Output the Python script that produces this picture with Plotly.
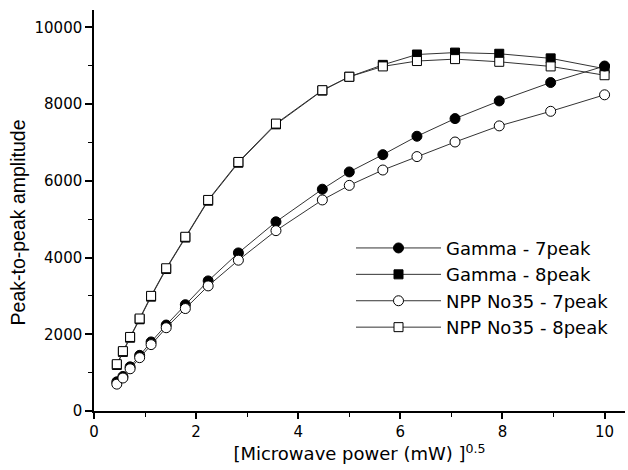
import plotly.graph_objects as go

# sqrt of microwave power (mW)
x_vals = [0.447, 0.566, 0.707, 0.894, 1.118, 1.414, 1.789, 2.236, 2.828, 3.564,
          4.472, 5.0, 5.657, 6.325, 7.071, 7.937, 8.944, 10.0]

gamma_7 = [760, 900, 1150, 1450, 1800, 2240, 2770, 3390, 4120, 4930,
           5780, 6230, 6680, 7160, 7620, 8080, 8560, 8990]
gamma_8 = [1200, 1540, 1910, 2390, 2980, 3700, 4520, 5480, 6470, 7470,
           8350, 8710, 9020, 9290, 9340, 9310, 9190, 8920]
npp_7 = [700, 860, 1100, 1390, 1730, 2170, 2670, 3260, 3930, 4700,
         5500, 5880, 6280, 6630, 7010, 7430, 7810, 8240]
npp_8 = [1220, 1560, 1930, 2410, 3000, 3720, 4540, 5500, 6490, 7490,
         8360, 8710, 8980, 9120, 9170, 9100, 8980, 8750]

# (name, values, symbol, fill, legend rank); listed in drawing order
series = [
    ("Gamma - 8peak", gamma_8, "square", "black", 2),
    ("NPP No35 - 8peak", npp_8, "square", "white", 4),
    ("Gamma - 7peak", gamma_7, "circle", "black", 1),
    ("NPP No35 - 7peak", npp_7, "circle", "white", 3),
]

fig = go.Figure()
for name, ys, sym, fill, rank in series:
    fig.add_trace(go.Scatter(
        x=x_vals, y=ys, name=name, mode="lines+markers", legendrank=rank,
        line=dict(color="#333333", width=1),
        marker=dict(symbol=sym, size=10 if sym == "circle" else 9, color=fill,
                    line=dict(color="black", width=1)),
    ))

wide = "DejaVu Sans, sans-serif"
narrow = "Liberation Sans, Arial, sans-serif"

fig.update_layout(
    width=628, height=470,
    margin=dict(l=94, r=3, t=10, b=59),
    paper_bgcolor="white", plot_bgcolor="white",
    font=dict(family=wide, color="black", size=15),
    showlegend=True,
    legend=dict(x=0.484, y=0.452, xanchor="left", yanchor="top",
                itemwidth=85, font=dict(family=wide, size=18),
                bgcolor="rgba(0,0,0,0)"),
    xaxis=dict(
        range=[0, 10.4], tickvals=[0, 2, 4, 6, 8, 10], automargin=False,
        showgrid=False, zeroline=False, showline=True, linecolor="black",
        linewidth=1.5, ticks="outside", ticklen=6, tickwidth=1.5,
        tickcolor="black", tickfont=dict(family=wide, size=15),
        minor=dict(tickvals=[1, 3, 5, 7, 9], ticks="outside", ticklen=4,
                   tickwidth=1, tickcolor="black"),
        title=dict(text="[Microwave power (mW) ]<sup>0.5</sup>",
                   font=dict(family=wide, size=18), standoff=4),
    ),
    yaxis=dict(
        range=[0, 10450], tickvals=[0, 2000, 4000, 6000, 8000, 10000],
        tickformat="d", automargin=False,
        showgrid=False, zeroline=False, showline=True, linecolor="black",
        linewidth=1.5, ticks="outside", ticklen=7, tickwidth=1.5,
        tickcolor="black", tickfont=dict(family=wide, size=15),
        minor=dict(tickvals=[1000, 3000, 5000, 7000, 9000], ticks="outside",
                   ticklen=4, tickwidth=1, tickcolor="black"),
    ),
)

# y title as an annotation: it sits a little below the plot middle in the original
fig.add_annotation(text="Peak-to-peak amplitude", textangle=-90,
                   xref="paper", yref="paper", x=-0.144, y=0.469,
                   xanchor="center", yanchor="middle", showarrow=False,
                   font=dict(family=narrow, size=19.5))

# drop the browser's default body margin so the figure sits at the page corner
fig.write_html("out.html", config={"displayModeBar": False},
               post_script="document.body.style.margin='0';")
